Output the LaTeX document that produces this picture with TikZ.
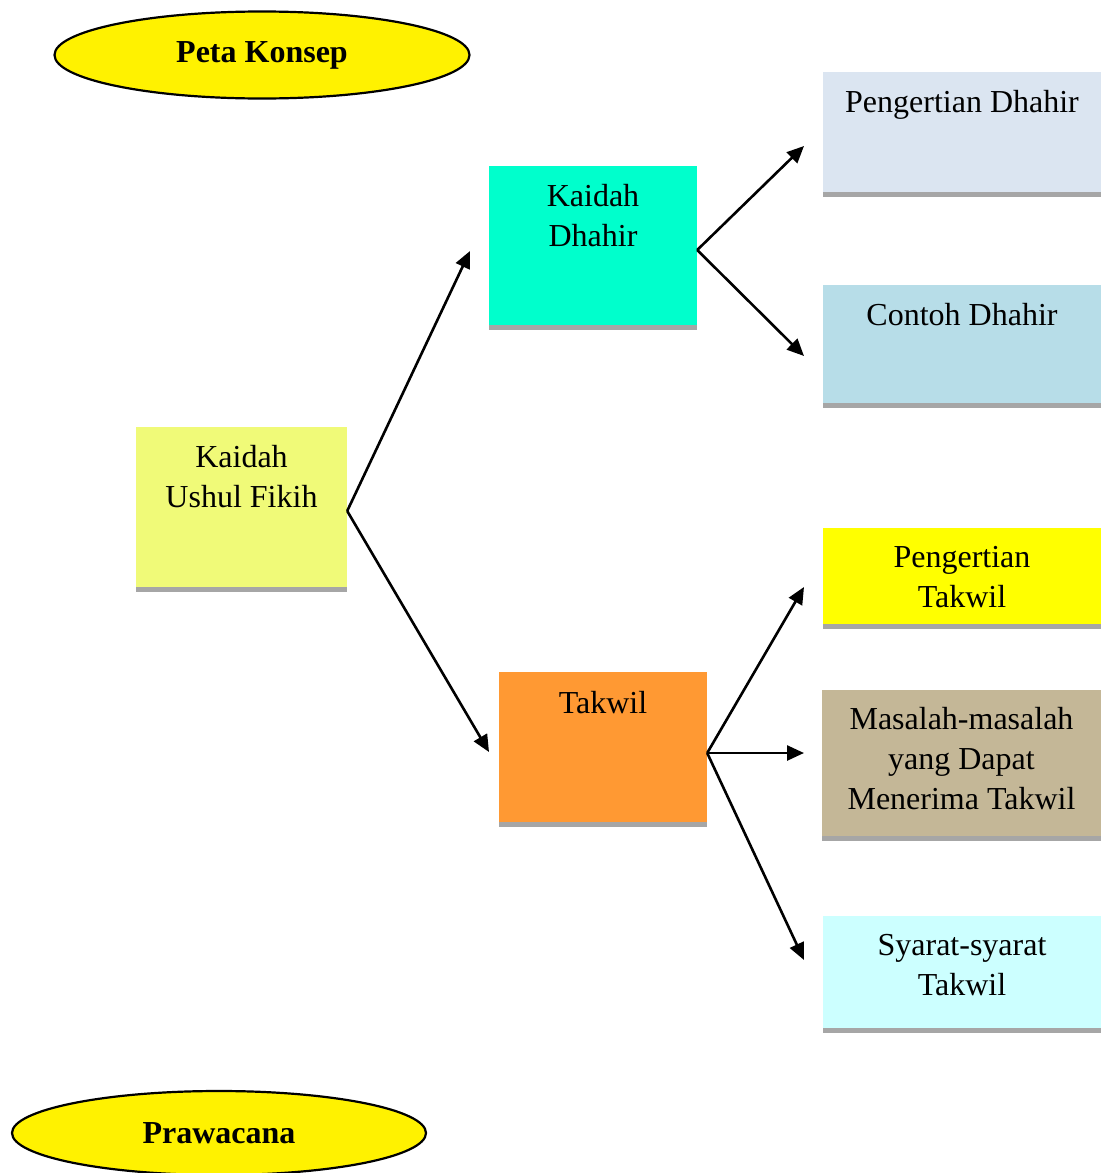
\documentclass[tikz,border=0pt]{standalone}
\usepackage{fontspec}
\setmainfont{Liberation Serif}
\usetikzlibrary{positioning,shapes.geometric,arrows.meta}
\definecolor{kufcol}{HTML}{F0FA78}
\definecolor{kdcol}{HTML}{00FFCC}
\definecolor{tkcol}{HTML}{FF9933}
\definecolor{pdcol}{HTML}{DBE5F1}
\definecolor{cdcol}{HTML}{B7DDE8}
\definecolor{ptcol}{HTML}{FFFF00}
\definecolor{mmcol}{HTML}{C4B797}
\definecolor{stcol}{HTML}{CCFFFF}
\definecolor{barcol}{HTML}{A6A6A6}
\begin{document}
\begin{tikzpicture}[x=1pt,y=-1pt,
	box/.style={rectangle,inner sep=0pt},
	txt/.style={inner sep=0pt,align=center,font=\fontsize{32}{40}\selectfont},
	oval/.style={ellipse,draw,line width=2.2pt,fill=yellow,inner sep=0pt,font=\fontsize{32}{38}\selectfont\bfseries},
	link/.style={line width=2.6pt,-{Triangle[length=17pt,width=15pt]}}]
	\useasboundingbox (0,0) rectangle (1101,1173);
	% titles
	\node[oval,minimum width=415pt,minimum height=87pt] (peta) at (262,55) {Peta Konsep};
	\node[oval,minimum width=414pt,minimum height=84pt] (prawa) at (219,1133) {Prawacana};
	% boxes
	\node[box,fill=kufcol,minimum width=211pt,minimum height=160pt] (kuf) at (241.5,507) {};
	\node[box,fill=kdcol,minimum width=208pt,minimum height=159pt] (kd) at (593,245.5) {};
	\node[box,fill=tkcol,minimum width=208pt,minimum height=150pt] (tk) at (603,747) {};
	\node[box,fill=pdcol,minimum width=278pt,minimum height=120pt] (pd) at (962,132) {};
	\node[box,fill=cdcol,minimum width=278pt,minimum height=118pt] (cd) at (962,344) {};
	\node[box,fill=ptcol,minimum width=278pt,minimum height=96pt] (pt) at (962,576) {};
	\node[box,fill=mmcol,minimum width=279pt,minimum height=146pt] (mm) at (961.5,763) {};
	\node[box,fill=stcol,minimum width=278pt,minimum height=112pt] (st) at (962,972) {};
	\foreach \n in {kuf,kd,tk,pd,cd,pt,mm,st}{
		\fill[barcol] (\n.south west) rectangle ([yshift=-5pt]\n.south east);
	}
	% texts
	\node[txt,below=18pt of kuf.north] (kuft) {Kaidah\\Ushul Fikih};
	\node[txt,below=18pt of kd.north] (kdt) {Kaidah\\Dhahir};
	\node[txt,below=19pt of tk.north] (tkt) {Takwil};
	\node[txt,below=18pt of pd.north] (pdt) {Pengertian Dhahir};
	\node[txt,below=18pt of cd.north] (cdt) {Contoh Dhahir};
	\node[txt,below=18pt of pt.north] (ptt) {Pengertian\\Takwil};
	\node[txt,below=17pt of mm.north] (mmt) {Masalah-masalah\\yang Dapat\\Menerima Takwil};
	\node[txt,below=18pt of st.north] (stt) {Syarat-syarat\\Takwil};
	% arrows
	\coordinate (kdin) at (470,251);
	\coordinate (tkin) at (489,752);
	\coordinate (pdin) at (804,146);
	\coordinate (cdin) at (804,356);
	\coordinate (ptin) at (804,587);
	\coordinate (mmin) at (804,753);
	\coordinate (stin) at (804,960);
	\draw[link] ([yshift=-4pt]kuf.east) -- (kdin);
	\draw[link] ([yshift=-4pt]kuf.east) -- (tkin);
	\draw[link] ([yshift=-4.5pt]kd.east) -- (pdin);
	\draw[link] ([yshift=-4.5pt]kd.east) -- (cdin);
	\draw[link] ([yshift=-6pt]tk.east) -- (ptin);
	\draw[link] ([yshift=-6pt]tk.east) -- (mmin);
	\draw[link] ([yshift=-6pt]tk.east) -- (stin);
\end{tikzpicture}
\end{document}
